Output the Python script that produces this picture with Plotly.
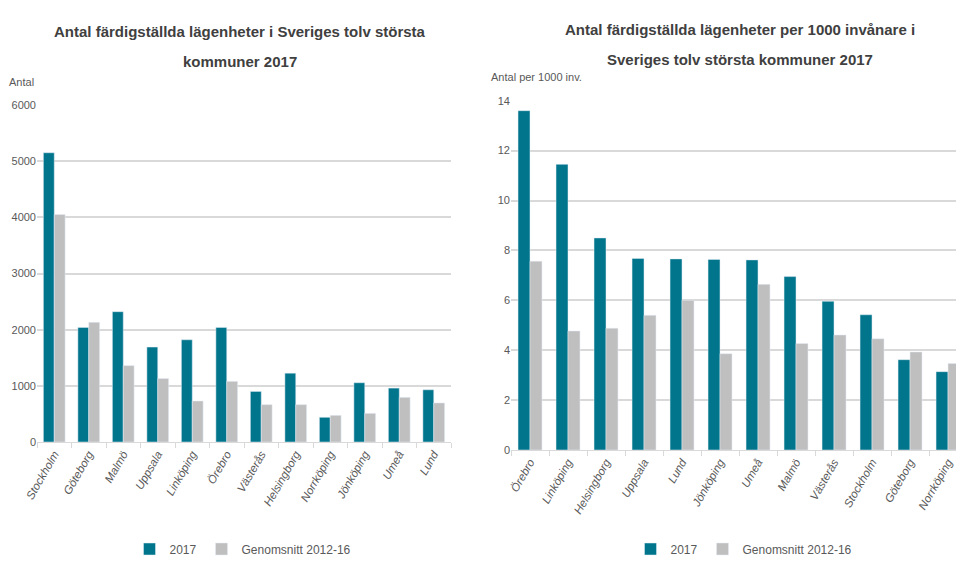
import plotly.graph_objects as go

# left chart: number of completed apartments
kommuner_antal = ["Stockholm", "Göteborg", "Malmö", "Uppsala", "Linköping", "Örebro",
                  "Västerås", "Helsingborg", "Norrköping", "Jönköping", "Umeå", "Lund"]
antal_2017 = [5150, 2040, 2320, 1690, 1820, 2040, 900, 1225, 440, 1055, 960, 930]
antal_snitt = [4050, 2130, 1360, 1130, 730, 1080, 665, 665, 475, 510, 795, 695]

# right chart: per 1000 inhabitants
kommuner_per1000 = ["Örebro", "Linköping", "Helsingborg", "Uppsala", "Lund", "Jönköping",
                    "Umeå", "Malmö", "Västerås", "Stockholm", "Göteborg", "Norrköping"]
per1000_2017 = [13.6, 11.45, 8.5, 7.68, 7.66, 7.64, 7.62, 6.95, 5.96, 5.42, 3.62, 3.14]
per1000_snitt = [7.57, 4.77, 4.88, 5.4, 6.0, 3.86, 6.64, 4.27, 4.61, 4.46, 3.93, 3.47]

TEAL = "#00758C"
GREY = "#BFBFBF"
GRID = "#D9D9D9"
TXT = "#595959"
FONT = "Liberation Sans, Arial, sans-serif"

W, H = 956, 561


def px(x):
    return x / W


def py(y):
    return 1 - y / H


fig = go.Figure()

fig.add_trace(go.Bar(x=kommuner_antal, y=antal_2017, name="2017", marker_color=TEAL,
                     xaxis="x", yaxis="y", legend="legend"))
fig.add_trace(go.Bar(x=kommuner_antal, y=antal_snitt, name="Genomsnitt 2012-16", marker_color=GREY,
                     xaxis="x", yaxis="y", legend="legend"))
fig.add_trace(go.Bar(x=kommuner_per1000, y=per1000_2017, name="2017", marker_color=TEAL,
                     xaxis="x2", yaxis="y2", legend="legend2"))
fig.add_trace(go.Bar(x=kommuner_per1000, y=per1000_snitt, name="Genomsnitt 2012-16", marker_color=GREY,
                     xaxis="x2", yaxis="y2", legend="legend2"))

xcommon = dict(
    showline=True, linecolor=GRID, linewidth=1,
    ticks="outside", tickson="boundaries", ticklen=5, tickcolor=GRID,
    tickangle=-60, tickfont=dict(family=FONT, size=11.5, color=TXT, style="italic"),
    showgrid=False, automargin=False,
)
ycommon = dict(
    showgrid=True, gridcolor=GRID, gridwidth=1.5, zeroline=False, showline=False,
    tickfont=dict(family=FONT, size=11, color=TXT), automargin=False,
)

legend_font = dict(family=FONT, size=12, color=TXT)

fig.update_layout(
    width=W, height=H,
    margin=dict(l=0, r=0, t=0, b=0, autoexpand=False),
    paper_bgcolor="white", plot_bgcolor="white",
    barmode="group", bargap=0.37, bargroupgap=0,
    font=dict(family=FONT, color=TXT),
    xaxis=dict(domain=[px(37), px(451)], anchor="y", **xcommon),
    yaxis=dict(domain=[py(442), py(105)], anchor="x", range=[0, 6000], dtick=1000, **ycommon),
    xaxis2=dict(domain=[px(511), 1.0], anchor="y2", range=[-0.5, 11.21], **xcommon),
    yaxis2=dict(domain=[py(450), py(100.7)], anchor="x2", range=[0, 14], dtick=2, **ycommon),
    legend=dict(orientation="h", x=px(243), xanchor="center", y=py(549), yanchor="middle",
                font=legend_font, itemwidth=30, tracegroupgap=0),
    legend2=dict(orientation="h", x=px(744), xanchor="center", y=py(549), yanchor="middle",
                 font=legend_font, itemwidth=30, tracegroupgap=0),
    showlegend=True,
)

# titles, one annotation per line to match the reference's line spacing
title_font = dict(family=FONT, size=15, color="#404040", weight="bold")
title_lines = [
    ("Antal färdigställda lägenheter i Sveriges tolv största", 240, 31),
    ("kommuner 2017", 240, 62),
    ("Antal färdigställda lägenheter per 1000 invånare i", 740, 30),
    ("Sveriges tolv största kommuner 2017", 740, 60),
]
for text, tx, ty in title_lines:
    fig.add_annotation(text=text, xref="paper", yref="paper", x=px(tx), y=py(ty),
                       xanchor="center", yanchor="middle", showarrow=False, font=title_font)

fig.add_annotation(text="Antal", xref="paper", yref="paper", x=px(7), y=py(82),
                   xanchor="left", yanchor="middle", showarrow=False,
                   font=dict(family=FONT, size=11, color=TXT))
fig.add_annotation(text="Antal per 1000 inv.", xref="paper", yref="paper", x=px(489), y=py(77),
                   xanchor="left", yanchor="middle", showarrow=False,
                   font=dict(family=FONT, size=11, color=TXT))

# drop the browser's default body margin so the figure sits at the window's top-left
fig.write_html("out.html", config={"displayModeBar": False},
               post_script="document.body.style.margin='0';")
